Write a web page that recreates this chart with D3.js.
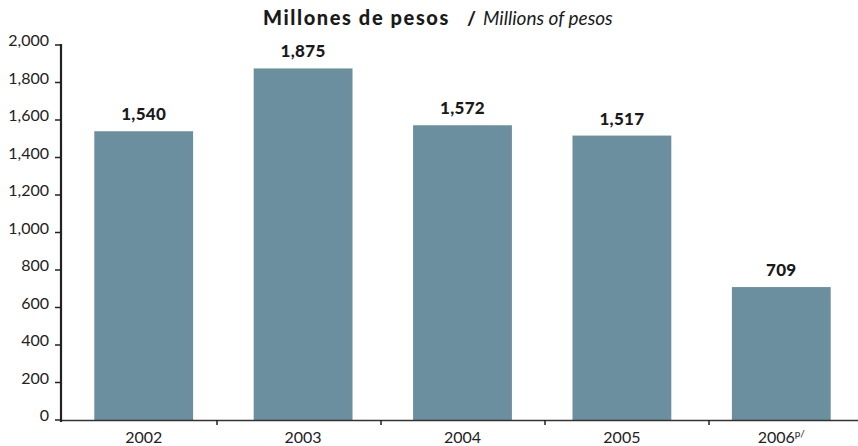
<!DOCTYPE html>
<html><head><meta charset="utf-8">
<script src="https://cdn.jsdelivr.net/npm/d3@7"></script>
<style>
body{margin:0;background:#fff;}
svg{display:block;font-family:Lato,"Open Sans",sans-serif;}
</style></head>
<body><svg id="c" width="858" height="446"></svg>
<script>
const categories = ["2002","2003","2004","2005","2006"];
const values = [1540,1875,1572,1517,709];
const valueLabels = ["1,540","1,875","1,572","1,517","709"];
const yTicks = [0,200,400,600,800,1000,1200,1400,1600,1800,2000];
const superscripts = ["","","","","p/"];

const svg = d3.select("#c");
const y = d3.scaleLinear().domain([0,2000]).range([420,45]);
const x = d3.scaleBand().domain(categories).range([64,861]).paddingInner(0.38).paddingOuter(0.19);
const xt = d3.scaleBand().domain(categories).range([53,873]);
const barColor = "#6b8f9f";

// bars
svg.selectAll("rect.bar").data(values).enter().append("rect")
  .attr("x",(d,i)=>x(categories[i])).attr("width",x.bandwidth())
  .attr("y",d=>y(d)).attr("height",d=>y(0)-y(d)).attr("fill",barColor);

// value labels
svg.selectAll("text.val").data(values).enter().append("text")
  .attr("x",(d,i)=>x(categories[i])+x.bandwidth()/2).attr("y",d=>y(d)-11)
  .attr("text-anchor","middle").attr("font-size",17).attr("font-weight",900).attr("fill","#1a1a1a")
  .attr("letter-spacing",0.3)
  .text((d,i)=>valueLabels[i]);

// x axis line
svg.append("line").attr("x1",61).attr("x2",858).attr("y1",y(0)+0.5).attr("y2",y(0)+0.5)
  .attr("stroke","#333").attr("stroke-width",1.6);
// x ticks between categories
svg.selectAll("line.xt").data(categories.slice(0,4)).enter().append("line")
  .attr("x1",d=>xt(d)+xt.step()).attr("x2",d=>xt(d)+xt.step())
  .attr("y1",y(0)).attr("y2",y(0)+5).attr("stroke","#222").attr("stroke-width",1.5);
// x labels
const xl = svg.selectAll("text.xl").data(categories).enter().append("text")
  .attr("x",d=>x(d)+x.bandwidth()/2).attr("y",443)
  .attr("text-anchor","middle").attr("font-size",16).attr("fill","#222");
xl.append("tspan").text(d=>d);
xl.append("tspan").attr("font-size",10).attr("dy",-6).text((d,i)=>superscripts[i]);

// y axis
svg.append("line").attr("x1",61).attr("x2",61).attr("y1",y(2000)-1).attr("y2",y(0)+2)
  .attr("stroke","#222").attr("stroke-width",2.2);
svg.selectAll("line.yt").data(yTicks).enter().append("line")
  .attr("x1",55).attr("x2",61).attr("y1",d=>y(d)).attr("y2",d=>y(d))
  .attr("stroke","#222").attr("stroke-width",1.5);
svg.selectAll("text.yl").data(yTicks).enter().append("text")
  .attr("x",49).attr("y",d=>y(d)+1)
  .attr("text-anchor","end").attr("font-size",16).attr("fill","#222")
  .text(d=>d3.format(",")(d));

// title
svg.append("text").attr("x",263).attr("y",25).attr("fill","#1a1a1a")
  .attr("font-weight",900).attr("font-size",20)
  .attr("letter-spacing",1.6).text("Millones de pesos");
svg.append("text").attr("x",467).attr("y",25).attr("fill","#1a1a1a")
  .attr("font-weight",900).attr("font-size",19)
  .text("/");
svg.append("text").attr("x",483).attr("y",25).attr("fill","#1a1a1a")
  .attr("font-style","italic").attr("font-size",19).text("Millions of pesos");
</script></body></html>
